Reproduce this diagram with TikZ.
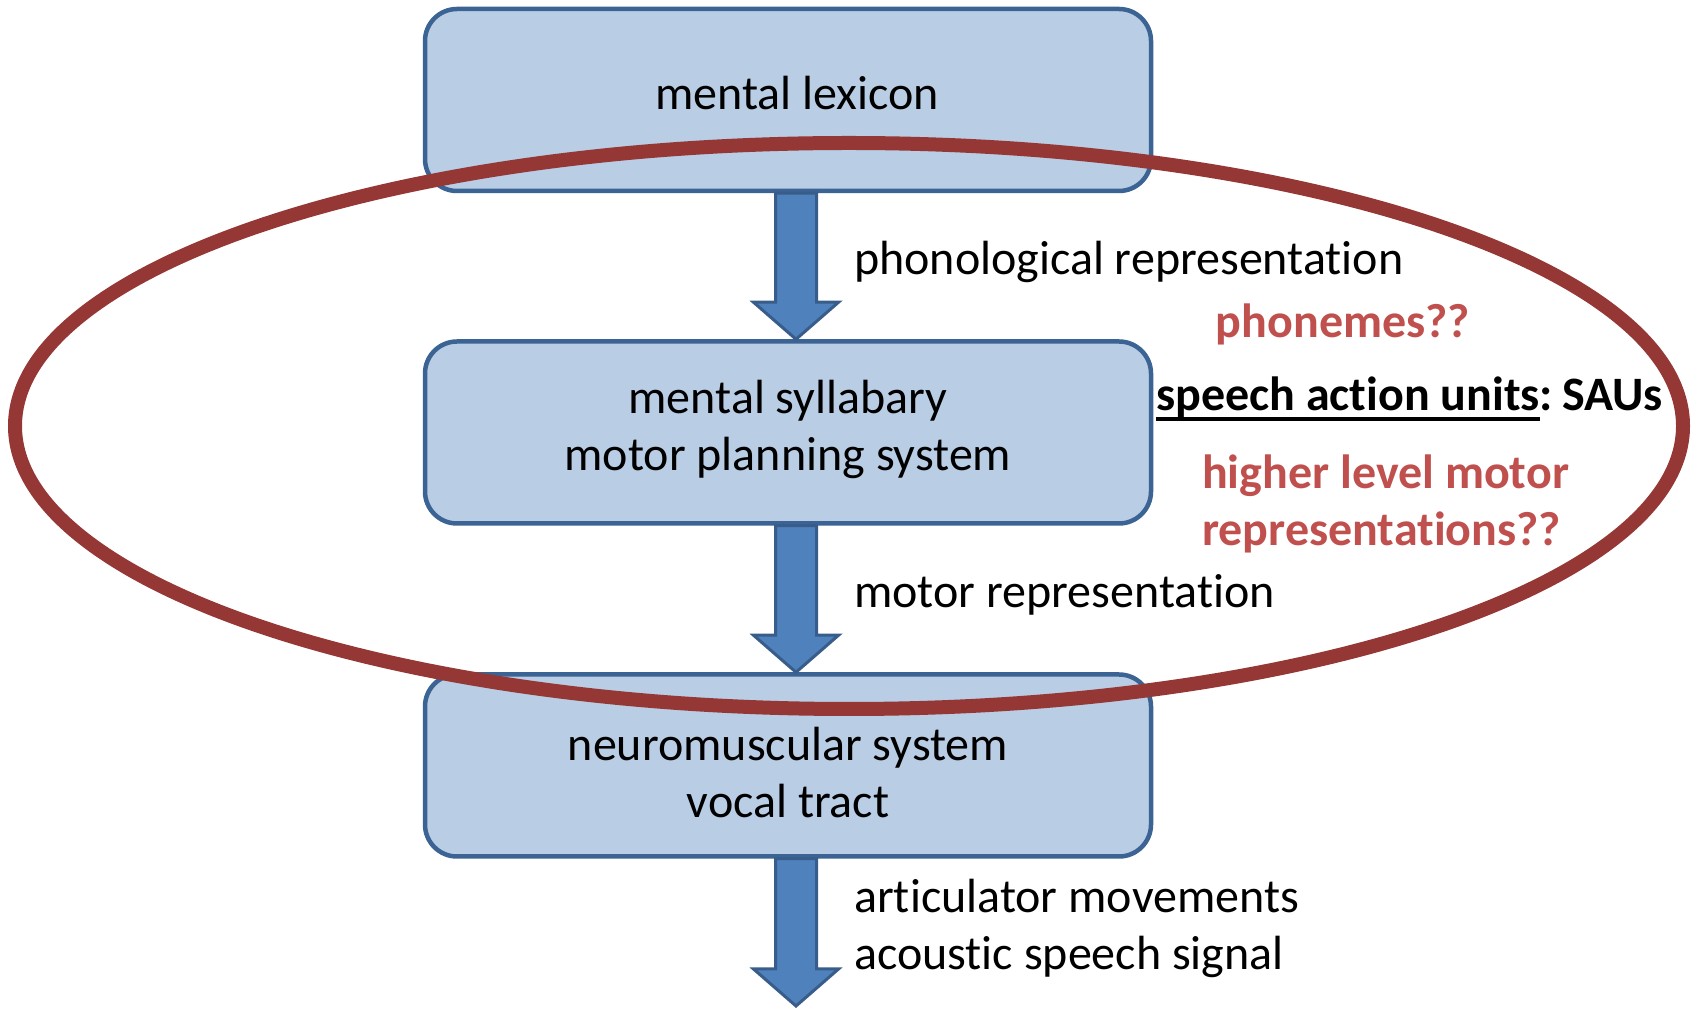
\documentclass[tikz,border=0pt]{standalone}
\usepackage{fontspec}
\setmainfont[Ligatures=NoCommon]{Carlito}
\usetikzlibrary{calc}
\definecolor{boxfill}{HTML}{B9CDE5}
\definecolor{boxline}{HTML}{3B6394}
\definecolor{arrfill}{HTML}{4F81BD}
\definecolor{arrline}{HTML}{385D8A}
\definecolor{ellred}{HTML}{953735}
\definecolor{txtred}{HTML}{C0504D}
\newlength\ulw
\newcommand\thickul[1]{\settowidth{\ulw}{#1}\rlap{\rule[-11pt]{\ulw}{4.5pt}}#1}
\newcommand\blkarrow[2]{\draw[arr] ($(#1)+(-20.5,0)$) -- ($(#2)+(-20.5,37)$) -- ($(#2)+(-42.5,37)$) -- (#2) -- ($(#2)+(42.5,37)$) -- ($(#2)+(20.5,37)$) -- ($(#1)+(20.5,0)$) -- cycle;}
\begin{document}
\begin{tikzpicture}[x=1pt,y=1pt,
  box/.style={draw=boxline,fill=boxfill,line width=4.5pt,rounded corners=32pt,minimum width=726pt,minimum height=182pt,inner sep=0pt},
  intext/.style={inner sep=0pt,align=center,font=\fontsize{48}{57}\selectfont},
  arr/.style={draw=arrline,fill=arrfill,line width=3pt,line join=miter},
  lbl/.style={anchor=west,inner sep=0pt,align=left,font=\fontsize{48}{57}\selectfont},
  redlbl/.style={lbl,text=txtred,font=\fontsize{48}{57}\selectfont\bfseries}]
\useasboundingbox (0,0) rectangle (1694,1009);
\node[box] (b1) at (788,909) {};
\node[box] (b2) at (788,576.5) {};
\node[box] (b3) at (788,243.5) {};
\node[intext] (b1t) at (797,916) {mental lexicon};
\node[intext] (b2t) at (788,580) {mental syllabary\\motor planning system};
\node[intext] (b3t) at (788,236.5) {neuromuscular system\\vocal tract};
\coordinate (a1s) at ($(b1.south)+(8,0)$);
\coordinate (a1e) at ($(b2.north)+(8,0)$);
\coordinate (a2s) at ($(b2.south)+(8,0)$);
\coordinate (a2e) at ($(b3.north)+(8,0)$);
\coordinate (a3s) at ($(b3.south)+(8,0)$);
\coordinate (a3e) at (796,3);
\blkarrow{a1s}{a1e}
\blkarrow{a2s}{a2e}
\blkarrow{a3s}{a3e}
\draw[ellred,line width=14pt] (849,583) ellipse [x radius=834, y radius=283];
\node[lbl] (t1) at (854,747) {phonological representation};
\node[redlbl,anchor=center] (t2) at (1343,685) {phonemes??};
\node[lbl,font=\fontsize{48}{57}\selectfont\bfseries] (t3) at (1156,610) {\thickul{speech action units}:\hspace{9pt}SAUs};
\node[redlbl] (t4) at (1202,505) {higher level motor\\representations??};
\node[lbl] (t5) at (854,414) {motor representation};
\node[lbl] (t6) at (854,81) {articulator movements\\acoustic speech signal};
\end{tikzpicture}
\end{document}
